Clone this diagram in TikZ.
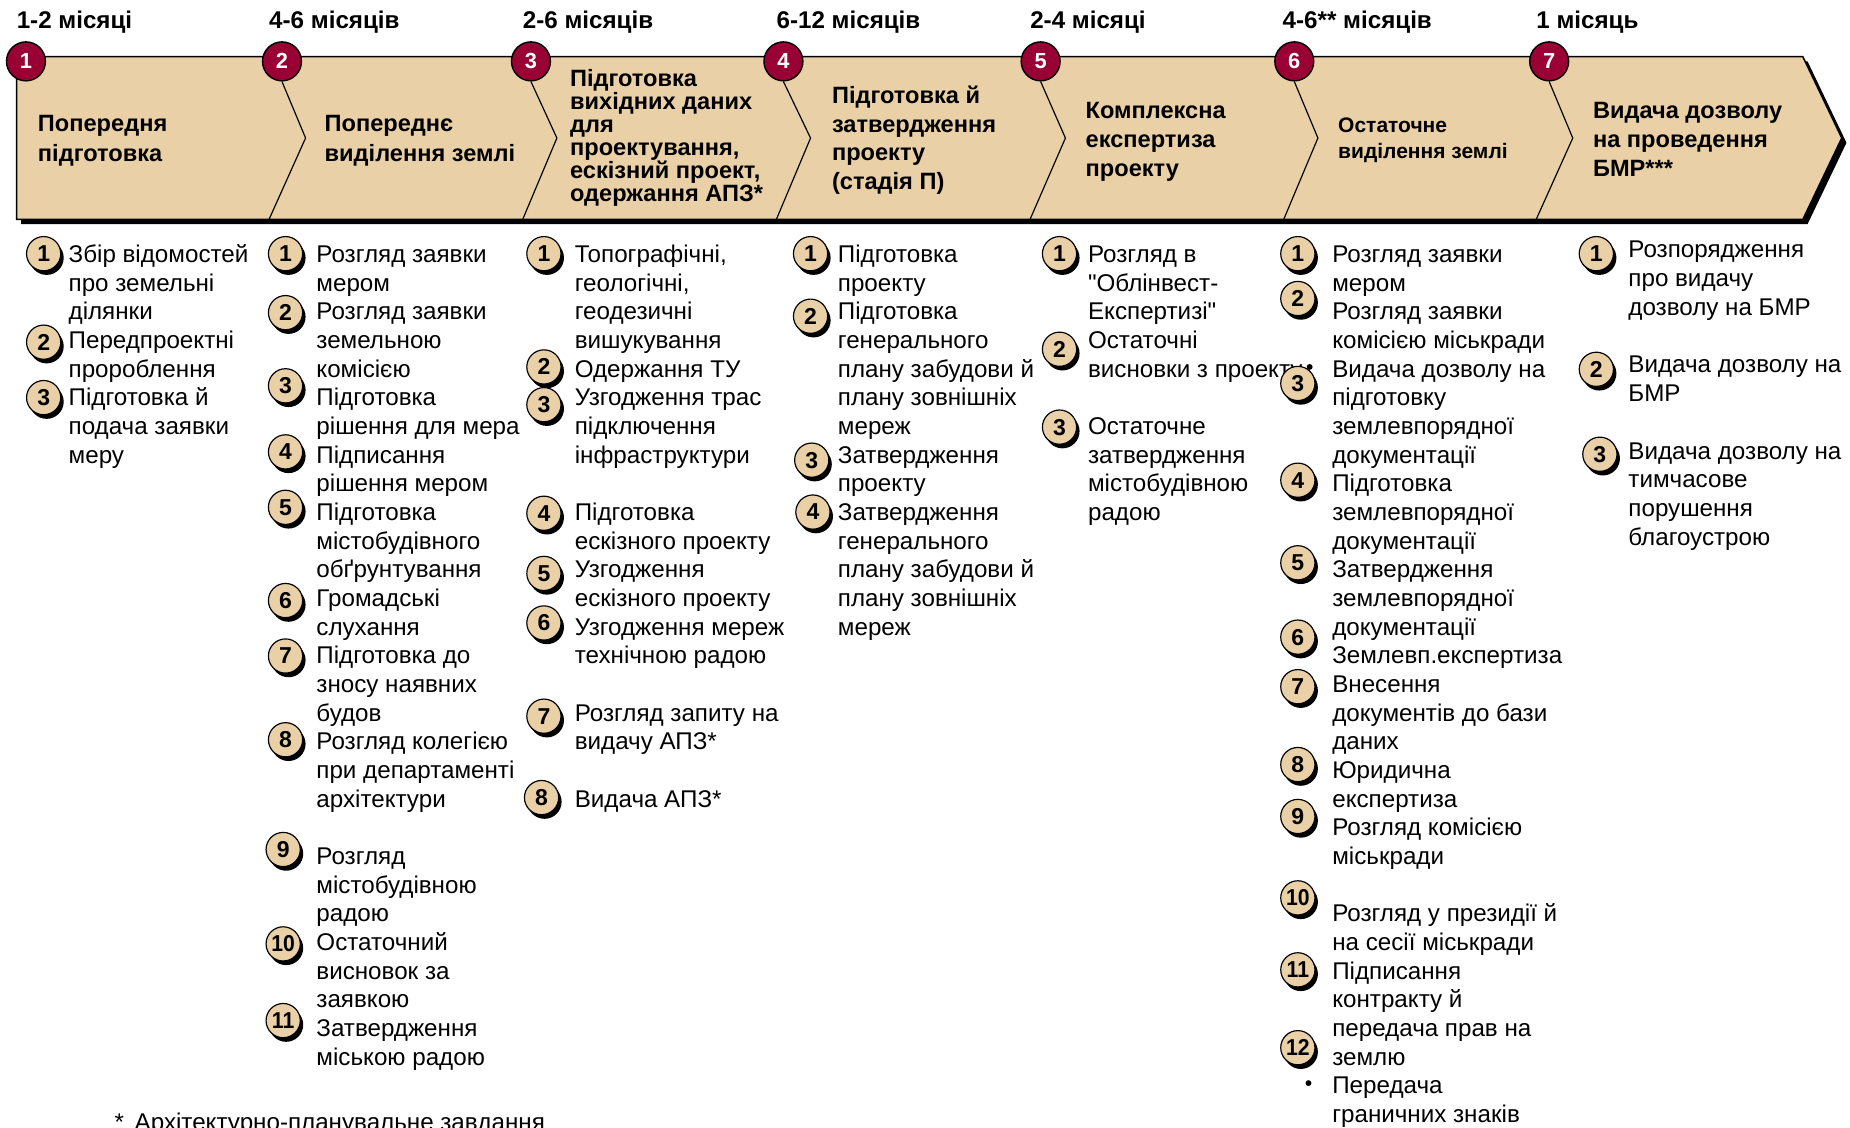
\documentclass[tikz,border=0pt]{standalone}
\usepackage{fontspec}
\setmainfont{Liberation Sans}[Ligatures=TeXOff]
\usepackage{graphicx}
\usetikzlibrary{shadows}

\definecolor{tanfill}{RGB}{234,208,166}
\definecolor{crimson}{RGB}{153,0,51}

\newcommand\bodyfont{\fontsize{20.5}{24.3}\selectfont}
\newcommand\headfont{\bfseries\fontsize{20}{24.4}\selectfont}
% lines stacked at a fixed baseline distance; the box's baseline is the first line's
\newcommand\stack[1]{\vtop{\lineskiplimit=-100pt\relax
  \def\\{\egroup\hbox\bgroup}\hbox\bgroup#1\egroup}}
\newcommand\twodig[1]{\scalebox{0.92}[1]{#1}}

\begin{document}
\begin{tikzpicture}[x=1pt,y=-1pt,
  itm/.style={anchor=base west, inner sep=0pt, font=\bodyfont, yshift=-6.5pt},
  head/.style={itm, font=\headfont},
  month/.style={anchor=base west, inner sep=0pt, font=\bfseries\fontsize{20.5}{24}\selectfont},
  stage/.style={circle, draw=black, line width=1.2pt, fill=crimson, text=white,
    minimum size=33pt, inner sep=0pt, font=\bfseries\fontsize{18.5}{18.5}\selectfont},
  badge/.style={circle, draw=black, line width=1pt, fill=tanfill, minimum size=29pt,
    inner sep=0pt, font=\bfseries\fontsize{19.5}{19.5}\selectfont,
    drop shadow={shadow xshift=2.5pt, shadow yshift=-3.5pt, opacity=1, fill=black}},
  bul/.style={circle, fill=black, inner sep=0pt, minimum size=5pt},
  divider/.style={draw=black, line width=1pt}
]
\useasboundingbox (0,0) rectangle (1568,956);

% ---- arrow band with shadow ----
\fill[black] (18,52) -- (1532,52) -- (1565,121) -- (1532,190) -- (18,190) -- cycle;
\draw[fill=tanfill, line width=1.3pt, line join=miter]
  (14,48) -- (1528,48) -- (1561,117) -- (1528,186) -- (14,186) -- cycle;

% ---- stage markers ----
\node[stage] (s1) at (22,52) {1};
\node[stage] (s2) at (239,52) {2};
\node[stage] (s3) at (450,52) {3};
\node[stage] (s4) at (664,52) {4};
\node[stage] (s5) at (882,52) {5};
\node[stage] (s6) at (1097,52) {6};
\node[stage] (s7) at (1313,52) {7};

% ---- chevron dividers between stages ----
\coordinate (m2) at (259,117);  \coordinate (d2) at (228,186);
\coordinate (m3) at (472,117);  \coordinate (d3) at (443,186);
\coordinate (m4) at (687,117);  \coordinate (d4) at (658,186);
\coordinate (m5) at (903,117);  \coordinate (d5) at (873,186);
\coordinate (m6) at (1117,117); \coordinate (d6) at (1088,186);
\coordinate (m7) at (1333,117); \coordinate (d7) at (1302,186);
\foreach \i in {2,...,7}{
  \draw[divider] (s\i.south) -- (m\i) -- (d\i);
}

% ---- durations ----
\node[month] (t1) at (14,24) {1-2 місяці};
\node[month] (t2) at (228,24) {4-6 місяців};
\node[month] (t3) at (443,24) {2-6 місяців};
\node[month] (t4) at (658,24) {6-12 місяців};
\node[month] (t5) at (873,24) {2-4 місяці};
\node[month] (t6) at (1087,24) {4-6** місяців};
\node[month] (t7) at (1302,24) {1 місяць};

% ---- stage titles ----
\node[head, font=\bfseries\fontsize{20}{25}\selectfont] (h1) at (32,105) {\stack{Попередня\\підготовка}};
\node[head, font=\bfseries\fontsize{20}{25}\selectfont] (h2) at (275,105) {\stack{Попереднє\\виділення землі}};
\node[head, font=\bfseries\fontsize{20}{19.5}\selectfont] (h3) at (483,67)
  {\stack{Підготовка\\вихідних даних\\для\\проектування,\\ескізний проект,\\одержання АПЗ*}};
\node[head] (h4) at (705,81) {\stack{Підготовка й\\затвердження\\проекту\\(стадія П)}};
\node[head] (h5) at (920,94) {\stack{Комплексна\\експертиза\\проекту}};
\node[head, font=\bfseries\fontsize{17.8}{22}\selectfont] (h6) at (1134,106) {\stack{Остаточне\\виділення землі}};
\node[head] (h7) at (1350,94) {\stack{Видача дозволу\\на проведення\\БМР***}};

% ---- column 1 ----
\node[itm] (a1) at (58,216) {\stack{Збір відомостей\\про земельні\\ділянки}};
\node[itm] (a2) at (58,288.9) {\stack{Передпроектні\\пророблення}};
\node[itm] (a3) at (58,337.5) {\stack{Підготовка й\\подача заявки\\меру}};
\node[badge] (ab1) at (37,215) {1};
\node[badge] (ab2) at (37,290) {2};
\node[badge] (ab3) at (37,337) {3};

% ---- column 2 ----
\node[itm] (b1) at (268,216) {\stack{Розгляд заявки\\мером}};
\node[itm] (b2) at (268,264.6) {\stack{Розгляд заявки\\земельною\\комісією}};
\node[itm] (b3) at (268,337.5) {\stack{Підготовка\\рішення для мера}};
\node[itm] (b4) at (268,386.1) {\stack{Підписання\\рішення мером}};
\node[itm] (b5) at (268,434.7) {\stack{Підготовка\\містобудівного\\обґрунтування}};
\node[itm] (b6) at (268,507.6) {\stack{Громадські\\слухання}};
\node[itm] (b7) at (268,556.2) {\stack{Підготовка до\\зносу наявних\\будов}};
\node[itm] (b8) at (268,629.1) {\stack{Розгляд колегією\\при департаменті\\архітектури}};
\node[itm] (b9) at (268,726.3) {\stack{Розгляд\\містобудівною\\радою}};
\node[itm] (b10) at (268,799.2) {\stack{Остаточний\\висновок за\\заявкою}};
\node[itm] (b11) at (268,872.1) {\stack{Затвердження\\міською радою}};
\node[badge] (bb1) at (242,215) {1};
\node[badge] (bb2) at (242,265) {2};
\node[badge] (bb3) at (242,327) {3};
\node[badge] (bb4) at (242,383) {4};
\node[badge] (bb5) at (242,430) {5};
\node[badge] (bb6) at (242,509) {6};
\node[badge] (bb7) at (242,556) {7};
\node[badge] (bb8) at (242,627) {8};
\node[badge] (bb9) at (240,720) {9};
\node[badge] (bb10) at (240,800) {\twodig{10}};
\node[badge] (bb11) at (240,865) {\twodig{11}};

% ---- column 3 ----
\node[itm] (c1) at (487,216) {\stack{Топографічні,\\геологічні,\\геодезичні\\вишукування}};
\node[itm] (c2) at (487,313.2) {\stack{Одержання ТУ}};
\node[itm] (c3) at (487,337.5) {\stack{Узгодження трас\\підключення\\інфраструктури}};
\node[itm] (c4) at (487,434.7) {\stack{Підготовка\\ескізного проекту}};
\node[itm] (c5) at (487,483.3) {\stack{Узгодження\\ескізного проекту}};
\node[itm] (c6) at (487,531.9) {\stack{Узгодження мереж\\технічною радою}};
\node[itm] (c7) at (487,604.8) {\stack{Розгляд запиту на\\видачу АПЗ*}};
\node[itm] (c8) at (487,677.7) {\stack{Видача АПЗ*}};
\node[badge] (cb1) at (461,215) {1};
\node[badge] (cb2) at (461,311) {2};
\node[badge] (cb3) at (461,343) {3};
\node[badge] (cb4) at (461,435) {4};
\node[badge] (cb5) at (461,486) {5};
\node[badge] (cb6) at (461,528) {6};
\node[badge] (cb7) at (461,607) {7};
\node[badge] (cb8) at (459,676) {8};

% ---- column 4 ----
\node[itm] (d1) at (710,216) {\stack{Підготовка\\проекту}};
\node[itm] (d2t) at (710,264.6) {\stack{Підготовка\\генерального\\плану забудови й\\плану зовнішніх\\мереж}};
\node[itm] (d3t) at (710,386.1) {\stack{Затвердження\\проекту}};
\node[itm] (d4t) at (710,434.7) {\stack{Затвердження\\генерального\\плану забудови й\\плану зовнішніх\\мереж}};
\node[badge] (db1) at (687,215) {1};
\node[badge] (db2) at (687,268) {2};
\node[badge] (db3) at (688,390) {3};
\node[badge] (db4) at (689,434) {4};

% ---- column 5 ----
\node[itm] (e1) at (922,216) {\stack{Розгляд в\\"Облінвест-\\Експертизі"}};
\node[itm] (e2) at (922,288.9) {\stack{Остаточні\\висновки з проекту}};
\node[itm] (e3) at (922,361.8) {\stack{Остаточне\\затвердження\\містобудівною\\радою}};
\node[badge] (eb1) at (898,215) {1};
\node[badge] (eb2) at (898,296) {2};
\node[badge] (eb3) at (898,362) {3};

% ---- column 6 ----
\node[itm] (f1) at (1129,216) {\stack{Розгляд заявки\\мером}};
\node[itm] (f2) at (1129,264.6) {\stack{Розгляд заявки\\комісією міськради}};
\node[itm] (f3) at (1129,313.2) {\stack{Видача дозволу на\\підготовку\\землевпорядної\\документації}};
\node[itm] (f4) at (1129,410.4) {\stack{Підготовка\\землевпорядної\\документації}};
\node[itm] (f5) at (1129,483.3) {\stack{Затвердження\\землевпорядної\\документації}};
\node[itm] (f6) at (1129,556.2) {\stack{Землевп.експертиза}};
\node[itm] (f7) at (1129,580.5) {\stack{Внесення\\документів до бази\\даних}};
\node[itm] (f8) at (1129,653.4) {\stack{Юридична\\експертиза}};
\node[itm] (f9) at (1129,702) {\stack{Розгляд комісією\\міськради}};
\node[itm] (f10) at (1129,774.9) {\stack{Розгляд у президії й\\на сесії міськради}};
\node[itm] (f11) at (1129,823.5) {\stack{Підписання\\контракту й\\передача прав на\\землю}};
\node[itm] (f12) at (1129,920.7) {\stack{Передача\\граничних знаків}};
\node[bul] (fd1) at (1110,311) {};
\node[bul] (fd2) at (1109,918) {};
\node[badge] (fb1) at (1100,215) {1};
\node[badge] (fb2) at (1100,253) {2};
\node[badge] (fb3) at (1100,325) {3};
\node[badge] (fb4) at (1100,407) {4};
\node[badge] (fb5) at (1100,477) {5};
\node[badge] (fb6) at (1100,540) {6};
\node[badge] (fb7) at (1100,582) {7};
\node[badge] (fb8) at (1100,648) {8};
\node[badge] (fb9) at (1100,692) {9};
\node[badge] (fb10) at (1100,761) {\twodig{10}};
\node[badge] (fb11) at (1100,822) {\twodig{11}};
\node[badge] (fb12) at (1100,888) {\twodig{12}};

% ---- column 7 ----
\node[itm] (g1) at (1380,212) {\stack{Розпорядження\\про видачу\\дозволу на БМР}};
\node[itm] (g2) at (1380,309.6) {\stack{Видача дозволу на\\БМР}};
\node[itm] (g3) at (1380,382.8) {\stack{Видача дозволу на\\тимчасове\\порушення\\благоустрою}};
\node[badge] (gb1) at (1353,215) {1};
\node[badge] (gb2) at (1353,313) {2};
\node[badge] (gb3) at (1356,385) {3};

% ---- footnote ----
\node[anchor=base west, inner sep=0pt, font=\bodyfont] (foot) at (97,958)
  {*\hspace{9pt}Архітектурно-планувальне завдання};
\end{tikzpicture}
\end{document}
